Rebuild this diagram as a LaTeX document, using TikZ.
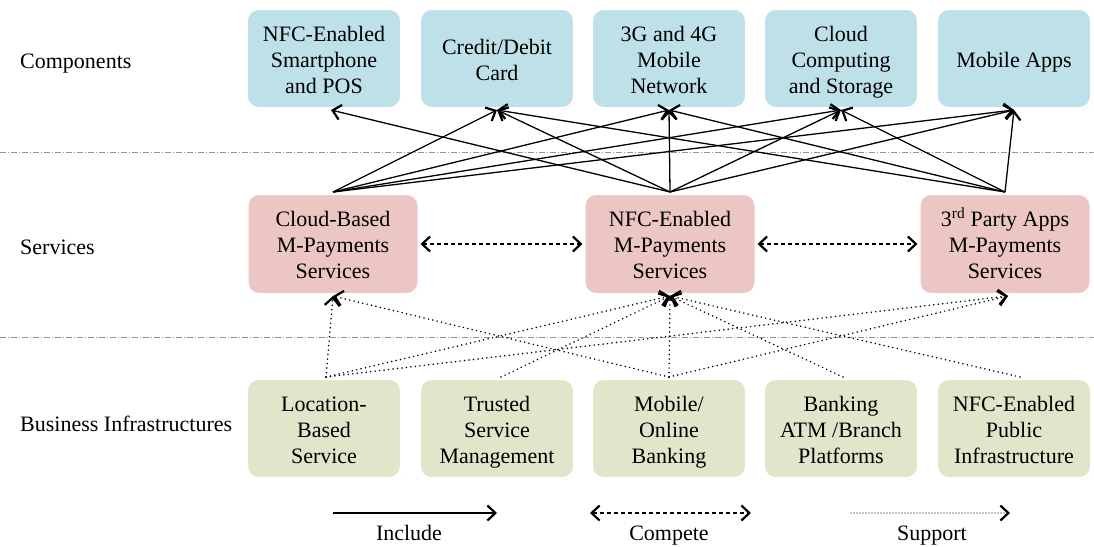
\documentclass[tikz,border=0pt]{standalone}
\usepackage{fontspec}
\setmainfont{Liberation Serif}
\usetikzlibrary{arrows.meta,shadows}

\definecolor{compblue}{RGB}{190,224,232}
\definecolor{servpink}{RGB}{235,198,194}
\definecolor{infgreen}{RGB}{223,230,201}
\definecolor{sepgray}{RGB}{150,150,150}
\newcommand\diagfont{\fontsize{22}{26}\selectfont}

\begin{document}
\begin{tikzpicture}[x=1pt,y=-1pt,
  >={Straight Barb[length=8pt,width=15pt,line width=2.2pt]},
  % the text block is measured from its last baseline, so its height
  % depends on the number of lines
  box/.style={draw=white, line width=3pt, rounded corners=12pt, align=center,
    font=\diagfont, inner sep=0pt, text depth=0pt, text height=69pt,
    drop shadow={opacity=0.28, shadow xshift=0.9pt, shadow yshift=-1.4pt}},
  twolines/.style={text height=43pt},
  oneline/.style={text height=17pt},
  comp/.style={box, fill=compblue, minimum width=155pt, minimum height=100pt},
  serv/.style={box, fill=servpink, minimum width=172pt, minimum height=101pt},
  infra/.style={box, fill=infgreen, minimum width=155pt, minimum height=100pt},
  rowlabel/.style={anchor=base west, font=\diagfont, inner sep=0pt},
  leglabel/.style={anchor=base, font=\diagfont, inner sep=0pt},
  include/.style={line width=1.3pt, ->},
  compete/.style={line width=1.3pt, dash pattern=on 4pt off 3pt, <->},
  support/.style={line width=1.7pt, line cap=round, dash pattern=on 0pt off 4.5pt, ->},
  separator/.style={sepgray, line width=0.8pt, dash pattern=on 6pt off 2pt on 1pt off 2pt}
]
\useasboundingbox (0,0) rectangle (1094,546);

% layer separators
\draw[separator] (0,152) -- (1094,152);
\draw[separator] (0,337) -- (1094,337);

% row titles
\node[rowlabel] (lcomp) at (20,68) {Components};
\node[rowlabel] (lserv) at (20,254) {Services};
\node[rowlabel] (linfra) at (20,431) {Business Infrastructures};

% components
\node[comp] (c1) at (324,58.5) {NFC-Enabled\\Smartphone\\and POS};
\node[comp, twolines] (c2) at (497,58.5) {Credit/Debit\\Card};
\node[comp] (c3) at (669,58.5) {3G and 4G\\Mobile\\Network};
\node[comp] (c4) at (841,58.5) {Cloud\\Computing\\and Storage};
\node[comp, oneline] (c5) at (1014,58.5) {Mobile Apps};

% services
\node[serv] (cloud) at (333,244) {Cloud-Based\\M-Payments\\Services};
\node[serv] (nfcs) at (670,244) {NFC-Enabled\\M-Payments\\Services};
\node[serv] (third) at (1005,244) {3\textsuperscript{rd} Party Apps\\M-Payments\\Services};

% business infrastructures
\node[infra] (loc) at (324,428.5) {Location-\\Based\\Service};
\node[infra] (trust) at (497,428.5) {Trusted\\Service\\Management};
\node[infra] (mob) at (669,428.5) {Mobile/\\Online\\Banking};
\node[infra] (bank) at (841,428.5) {Banking\\ATM /Branch\\Platforms};
\node[infra] (pub) at (1014,428.5) {NFC-Enabled\\Public\\Infrastructure};

% services include components
\foreach \t in {c2,c3,c4,c5}
  \draw[include] (cloud.north) -- (\t.south);
\draw[include] (nfcs.north) -- ([xshift=7pt]c1.south);
\foreach \t in {c2,c3,c4,c5}
  \draw[include] (nfcs.north) -- (\t.south);
\foreach \t in {c2,c3,c4,c5}
  \draw[include] (third.north) -- (\t.south);

% competing services
\draw[compete] (cloud.east) -- (nfcs.west);
\draw[compete] (nfcs.east) -- (third.west);

% infrastructures support services
\draw[support] ([xshift=2pt]loc.north) -- (cloud.south);
\draw[support] ([xshift=2pt]loc.north) -- (nfcs.south);
\draw[support] ([xshift=2pt]loc.north) -- ([xshift=3pt]third.south);
\draw[support] ([xshift=4pt]trust.north) -- (nfcs.south);
\draw[support] (mob.north) -- (cloud.south);
\draw[support] (mob.north) -- (nfcs.south);
\draw[support] (mob.north) -- ([xshift=3pt]third.south);
\draw[support] ([xshift=2pt]bank.north) -- (nfcs.south);
\draw[support] ([xshift=6pt]pub.north) -- (nfcs.south);

% legend
\coordinate (incA) at (333,513);
\coordinate (incB) at (497,513);
\coordinate (cmpA) at (590,513);
\coordinate (cmpB) at (751,513);
\coordinate (supA) at (851,513);
\coordinate (supB) at (1010,513);
\draw[include] (incA) -- (incB);
\draw[compete] (cmpA) -- (cmpB);
\draw[support, line width=1.3pt, dash pattern=on 0pt off 3pt] (supA) -- (supB);
\node[leglabel] (linc) at (409,540) {Include};
\node[leglabel] (lcmp) at (669,540) {Compete};
\node[leglabel] (lsup) at (932,540) {Support};
\end{tikzpicture}
\end{document}
